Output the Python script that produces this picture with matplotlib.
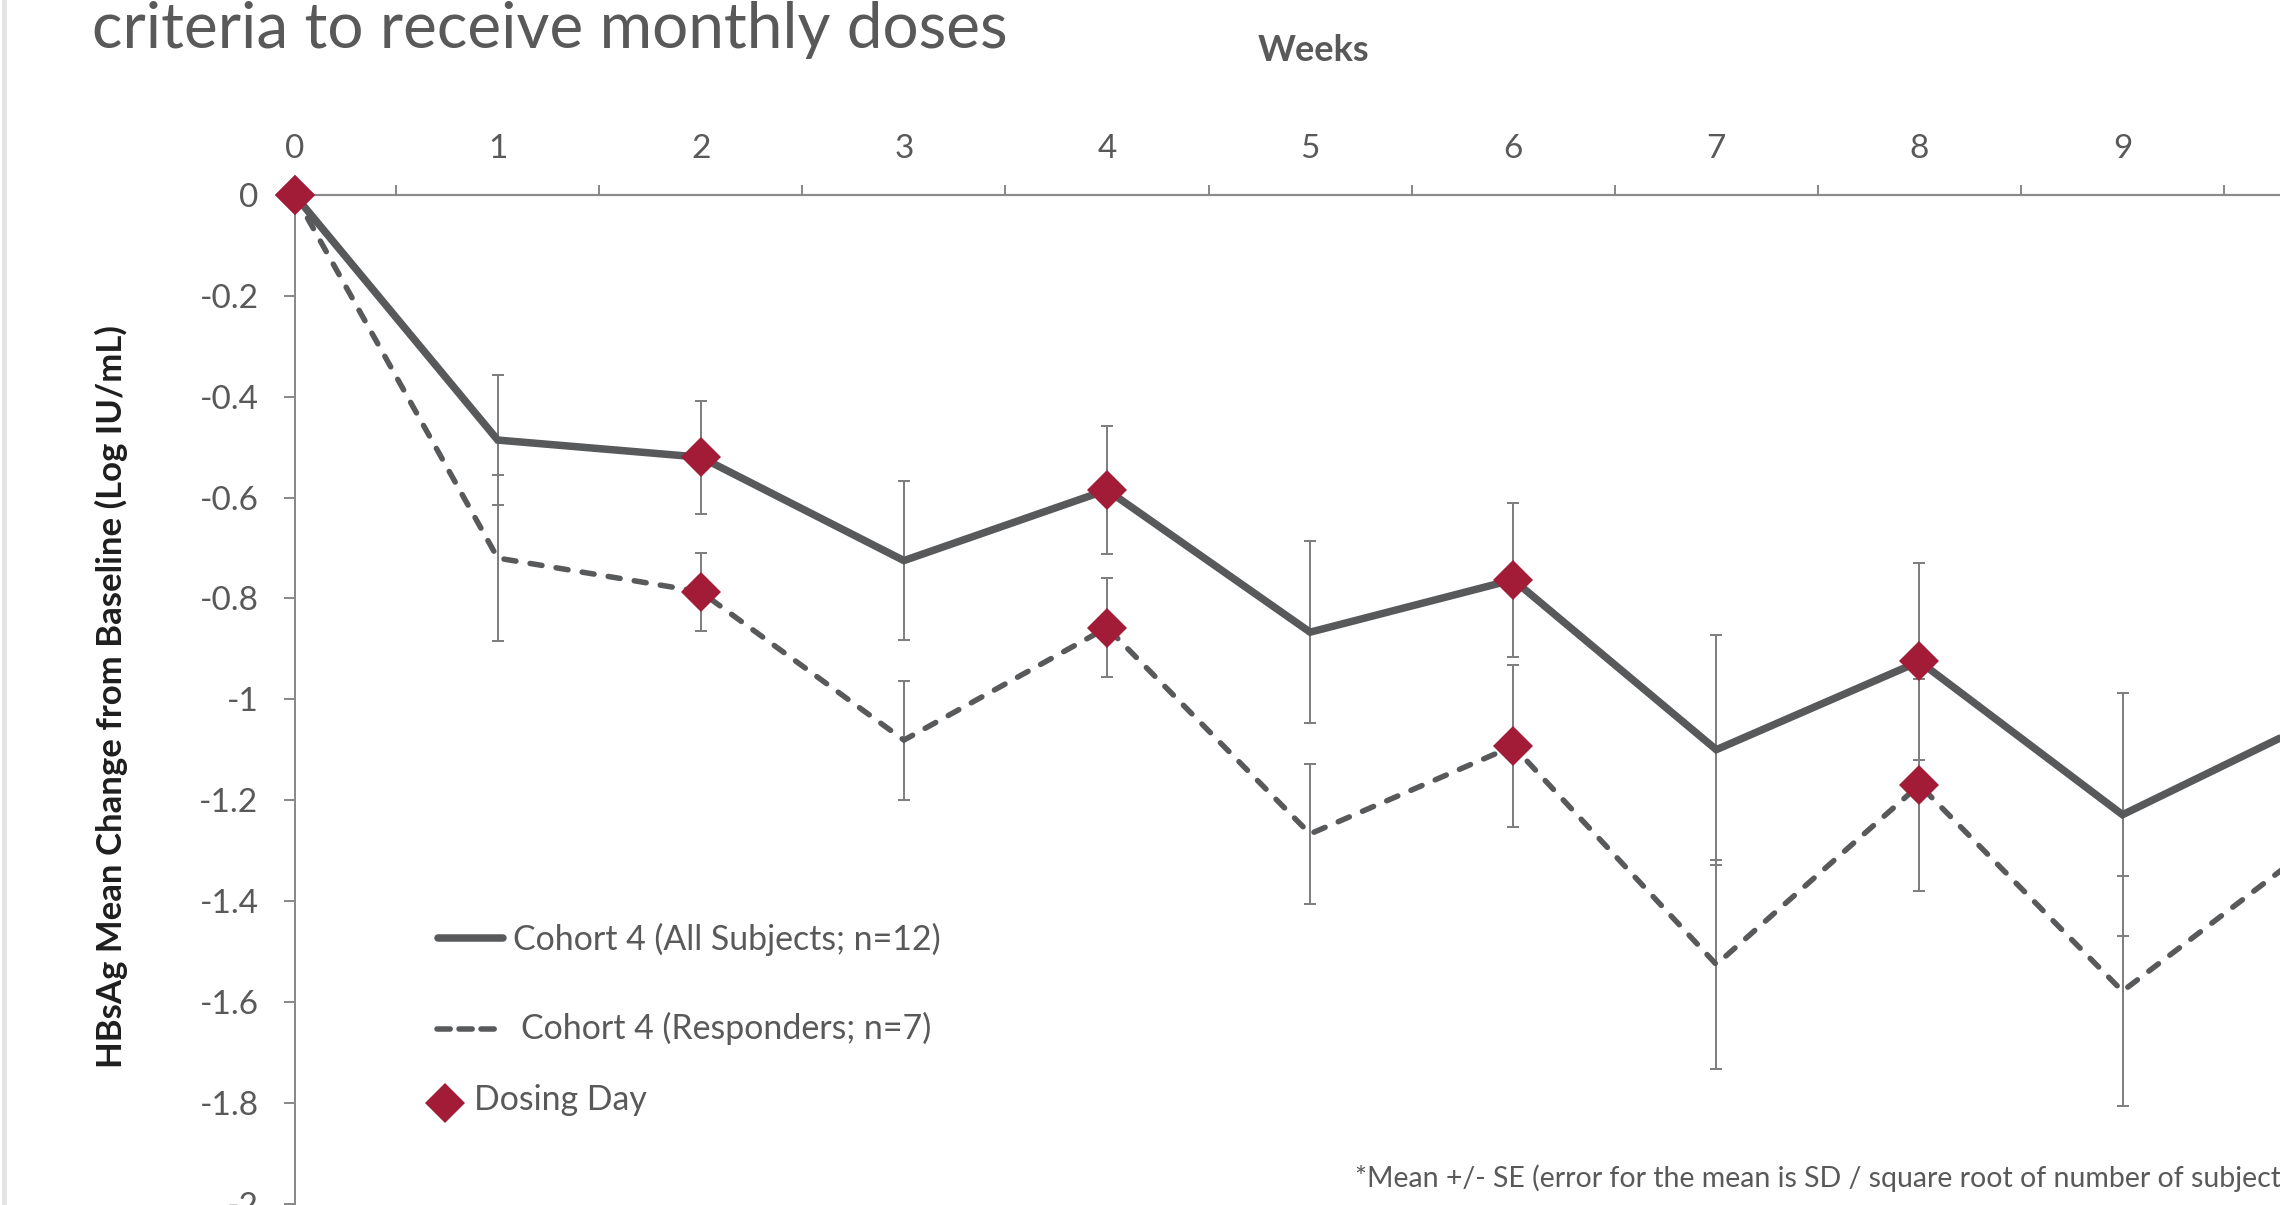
import math
import numpy as np
import matplotlib
matplotlib.use("Agg")
import matplotlib.pyplot as plt
from matplotlib.lines import Line2D
from matplotlib.ticker import FixedLocator, FuncFormatter, NullFormatter

# ---- data -----------------------------------------------------------------
weeks = [0, 1, 2, 3, 4, 5, 6, 7, 8, 9, 10]
week_labels = ["0", "1", "2", "3", "4", "5", "6", "7", "8", "9"]

# Cohort 4, all subjects (n=12): mean change and SE
all_mean = [0.0, -0.486, -0.520, -0.725, -0.585, -0.867, -0.763, -1.100, -0.925, -1.229, -1.033]
all_se = [0.0, 0.129, 0.112, 0.157, 0.127, 0.181, 0.153, 0.228, 0.196, 0.241, float("nan")]

# Cohort 4, responders (n=7): mean change and SE
resp_mean = [0.0, -0.720, -0.787, -1.081, -0.858, -1.267, -1.093, -1.526, -1.170, -1.579, -1.272]
resp_se = [0.0, 0.165, 0.077, 0.118, 0.098, 0.139, 0.160, 0.207, 0.211, 0.228, float("nan")]

dosing_weeks = [0, 2, 4, 6, 8, 10]

y_ticks = [0, -0.2, -0.4, -0.6, -0.8, -1.0, -1.2, -1.4, -1.6, -1.8, -2.0]

title_text = "criteria to receive monthly doses"
legend_all = "Cohort 4 (All Subjects; n=12)"
legend_resp = "Cohort 4 (Responders; n=7)"
legend_dose = "Dosing Day"
x_title = "Weeks"
y_title = "HBsAg Mean Change from Baseline (Log IU/mL)"
footnote = "*Mean +/- SE (error for the mean is SD / square root of number of subjects)"

# ---- style ----------------------------------------------------------------
W, H, DPI = 2280, 1205, 100
PT = 72.0 / DPI  # points per pixel

LINE_GREY = "#58595b"
AXIS_GREY = "#8a8a8a"
ERR_GREY = "#7f7f7f"
TEXT_GREY = "#595959"
DOSE_RED = "#a31c37"
DIAMOND_MS = 40 * PT / math.sqrt(2)   # diamond about 40 px corner to corner

plt.rcParams["font.family"] = ["Lato", "DejaVu Sans"]
plt.rcParams["axes.unicode_minus"] = False

fig = plt.figure(figsize=(W / DPI, H / DPI), dpi=DPI)
fig.patch.set_facecolor("white")


def fx(x):
    return x / W


def fy(y):
    return 1 - y / H


# plot area: y=0 line at 195 px from the top, y=-2 at the bottom edge
left_px, top_px, bottom_px = 294.6, 195.0, 1203.5
week_px = 203.1
ax = fig.add_axes([fx(left_px), fy(bottom_px), 1 - fx(left_px), fy(top_px) - fy(bottom_px)])
ax.set_xlim(0, (W - left_px) / week_px)
ax.set_ylim(-2.0, 0.0)
ax.set_facecolor("none")

# error bars underneath the lines
err_kw = dict(fmt="none", ecolor=ERR_GREY, elinewidth=2 * PT, capsize=6 * PT,
              capthick=2 * PT, zorder=2)
ax.errorbar(weeks, all_mean, yerr=all_se, **err_kw)
ax.errorbar(weeks, resp_mean, yerr=resp_se, **err_kw)

# mean lines
ax.plot(weeks, all_mean, color=LINE_GREY, lw=7.5 * PT, solid_joinstyle="miter",
        solid_capstyle="butt", zorder=3)
ax.plot(weeks, resp_mean, color=LINE_GREY, lw=5.5 * PT, dashes=(2.2, 2.6),
        dash_capstyle="round", dash_joinstyle="miter", zorder=3)

# dosing day diamonds on both series
for series in (all_mean, resp_mean):
    dose_vals = [series[weeks.index(w)] for w in dosing_weeks]
    ax.plot(dosing_weeks, dose_vals, ls="none", marker="D", ms=DIAMOND_MS,
            color=DOSE_RED, mew=0, zorder=4, clip_on=False)

# axes: category axis along the top (at y=0), value axis on the left
for side in ("right", "bottom"):
    ax.spines[side].set_visible(False)
ax.spines["top"].set_color(AXIS_GREY)
ax.spines["top"].set_linewidth(2.2 * PT)
ax.spines["left"].set_color(AXIS_GREY)
ax.spines["left"].set_linewidth(2 * PT)

ax.xaxis.set_ticks_position("top")
ax.xaxis.set_major_locator(FixedLocator(np.arange(0.5, 10, 1.0)))
ax.xaxis.set_major_formatter(NullFormatter())
ax.xaxis.set_minor_locator(FixedLocator(range(len(week_labels))))
ax.xaxis.set_minor_formatter(FuncFormatter(lambda v, p: week_labels[int(round(v))]
                                           if 0 <= int(round(v)) < len(week_labels) else ""))
ax.tick_params(axis="x", which="major", direction="out", length=10 * PT,
               width=2 * PT, color=AXIS_GREY)
ax.tick_params(axis="x", which="minor", length=0, pad=31 * PT,
               labelsize=24, labelcolor=TEXT_GREY)

ax.yaxis.set_major_locator(FixedLocator(y_ticks))


def y_fmt(v, p):
    v = round(v, 1)
    return "0" if abs(v) < 1e-9 else f"{v:g}"


ax.yaxis.set_major_formatter(FuncFormatter(y_fmt))
ax.tick_params(axis="y", which="major", direction="out", length=11 * PT,
               width=2 * PT, color=AXIS_GREY, pad=25 * PT,
               labelsize=24, labelcolor=TEXT_GREY)

# ---- text -----------------------------------------------------------------
fig.text(fx(92), fy(48), title_text, ha="left", va="baseline", fontsize=46,
         color=TEXT_GREY)
fig.text(fx(1313), fy(61), x_title, ha="center", va="baseline", fontsize=26,
         fontweight="bold", color=TEXT_GREY)
fig.text(fx(111), fy(697), y_title, ha="center", va="center", rotation=90,
         fontsize=25, fontweight="bold", color="#1e1e1e")
fig.text(fx(1355), fy(1187), footnote, ha="left", va="baseline", fontsize=20.5,
         color=TEXT_GREY)

# ---- legend ---------------------------------------------------------------
fig.add_artist(Line2D([fx(438), fx(503)], [fy(938), fy(938)], color=LINE_GREY,
                      lw=7.5 * PT, solid_capstyle="round"))
fig.text(fx(513), fy(950), legend_all, ha="left", va="baseline", fontsize=24.4,
         color=TEXT_GREY)

fig.add_artist(Line2D([fx(437), fx(499)], [fy(1029), fy(1029)], color=LINE_GREY,
                      lw=5.5 * PT, dashes=(2.4, 1.6), dash_capstyle="round"))
fig.text(fx(521), fy(1039), legend_resp, ha="left", va="baseline", fontsize=24.4,
         color=TEXT_GREY)

fig.add_artist(Line2D([fx(445)], [fy(1103)], ls="none", marker="D",
                      ms=DIAMOND_MS, color=DOSE_RED, mew=0))
fig.text(fx(474), fy(1110), legend_dose, ha="left", va="baseline", fontsize=24.4,
         color=TEXT_GREY)

# slide border on the far left
fig.add_artist(Line2D([fx(4), fx(4)], [0, 1], color="#e4e4e4", lw=5 * PT))

fig.savefig("out.png", dpi=DPI, facecolor="white")
